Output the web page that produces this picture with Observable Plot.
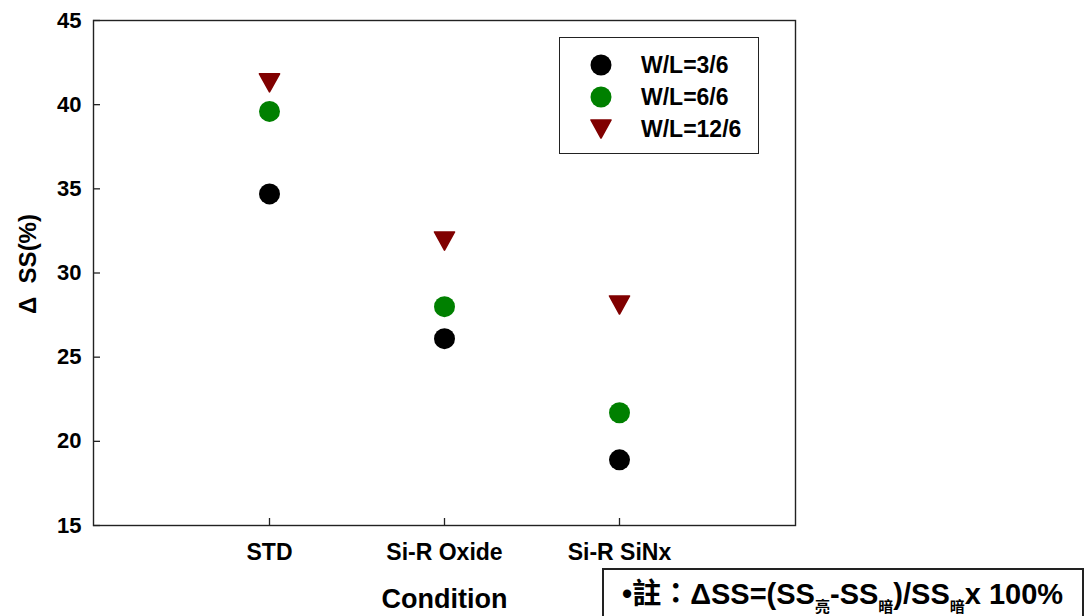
<!DOCTYPE html>
<html><head><meta charset="utf-8">
<script src="https://cdn.jsdelivr.net/npm/d3@7"></script>
<script src="https://cdn.jsdelivr.net/npm/@observablehq/plot@0.6"></script>
<style>
body{margin:0;background:#fff;}
#fig{position:relative;width:1086px;height:616px;overflow:hidden;font-family:"Liberation Sans",Arial,"Noto Sans CJK TC",sans-serif;font-weight:bold;color:#000;}
#fig > svg{position:absolute;left:0;top:0;}
.legend{position:absolute;left:559px;top:37px;width:198px;height:115px;border:1.5px solid #222;background:#fff;}
.lrow{position:absolute;left:0;height:32px;width:198px;}
.lrow svg{position:absolute;left:29px;top:4px;}
.lrow span{position:absolute;left:81px;top:0;line-height:32px;font-size:23px;white-space:nowrap;}
.note{position:absolute;left:602px;top:568px;width:478px;height:80px;border:2px solid #222;background:#fff;}
.note div{position:absolute;left:18px;top:8px;font-size:29px;white-space:nowrap;line-height:32px;font-family:"Liberation Sans",Arial,"Noto Sans CJK TC",sans-serif;}
.note sub{font-size:15px;vertical-align:-8px;line-height:0;}
</style></head><body><div id="fig"></div>
<script>
const categories = ["STD", "Si-R Oxide", "Si-R SiNx"];
const seriesNames = ["W/L=3/6", "W/L=6/6", "W/L=12/6"];
const wl3 = [34.7, 26.1, 18.9];
const wl6 = [39.6, 28.0, 21.7];
const wl12 = [41.3, 31.9, 28.1];
const yTicks = [15, 20, 25, 30, 35, 40, 45];
const yLabel = "Δ  SS(%)";
const xLabel = "Condition";
const seriesColors = ["#000000", "#008000", "#800000"];

const seriesValues = [wl3, wl6, wl12];
const rows = seriesNames.flatMap((s, si) => categories.map((c, ci) => ({cat: c, series: s, v: seriesValues[si][ci]})));

const triDown = {
  draw(ctx, size) {
    const w = Math.sqrt(size * 2 / 0.9), h = 0.9 * w;
    ctx.moveTo(-w / 2, -h / 2);
    ctx.lineTo(w / 2, -h / 2);
    ctx.lineTo(0, h / 2);
    ctx.closePath();
  }
};
const symbols = [d3.symbolCircle, d3.symbolCircle, triDown];
const radii = [10.5, 10.5, 7.6];

const font = '"Liberation Sans", Arial, sans-serif';
const plot = Plot.plot({
  width: 1086, height: 616,
  marginLeft: 93, marginRight: 291, marginTop: 20, marginBottom: 91,
  style: {fontFamily: font, fontWeight: "bold", fontSize: "21px", color: "#000", background: "transparent"},
  x: {type: "point", domain: categories, padding: 1, label: null},
  y: {domain: [15, 45], label: null},
  marks: [
    Plot.frame({stroke: "#222", strokeWidth: 1.4}),
    Plot.axisX({tickSize: -7, tickPadding: 25, fontSize: 23, fontWeight: "bold", label: null, stroke: "#222", strokeWidth: 1.3}),
    Plot.axisY({ticks: yTicks, tickSize: -7, tickPadding: 19, fontSize: 22, fontWeight: "bold", label: null, stroke: "#222", strokeWidth: 1.3}),
    Plot.text([yLabel], {frameAnchor: "left", textAnchor: "middle", lineAnchor: "middle", dx: -65, dy: -9, rotate: -90, fontSize: 24, fontWeight: "bold", fill: "#000"}),
    Plot.text([xLabel], {frameAnchor: "bottom", textAnchor: "middle", lineAnchor: "middle", dy: 74, fontSize: 27, fontWeight: "bold", fill: "#000"}),
    ...seriesNames.map((s, i) => Plot.dot(rows.filter(d => d.series === s), {
      x: "cat", y: "v", r: radii[i], symbol: symbols[i], fill: seriesColors[i],
      stroke: i === 2 ? seriesColors[i] : "none", strokeWidth: 1.6, strokeLinejoin: "round"
    }))
  ]
});
const fig = document.getElementById("fig");
fig.appendChild(plot);

// legend
const legend = document.createElement("div");
legend.className = "legend";
const rowCenters = [27, 58.5, 91];
seriesNames.forEach((s, i) => {
  const row = document.createElement("div");
  row.className = "lrow";
  row.style.top = (rowCenters[i] - 16) + "px";
  const svg = d3.create("svg").attr("width", 24).attr("height", 24);
  const path = d3.path();
  symbols[i].draw(path, Math.PI * radii[i] * radii[i]);
  svg.append("path").attr("transform", "translate(12,12)").attr("d", path.toString())
    .attr("fill", seriesColors[i]).attr("stroke", i === 2 ? seriesColors[i] : "none")
    .attr("stroke-width", 1.6).attr("stroke-linejoin", "round");
  row.appendChild(svg.node());
  const t = document.createElement("span");
  t.textContent = s;
  row.appendChild(t);
  legend.appendChild(row);
});
fig.appendChild(legend);

// note
const note = document.createElement("div");
note.className = "note";
note.innerHTML = '<div>•註：ΔSS=(SS<sub>亮</sub>-SS<sub>暗</sub>)/SS<sub>暗</sub>x 100%</div>';
fig.appendChild(note);
</script></body></html>
